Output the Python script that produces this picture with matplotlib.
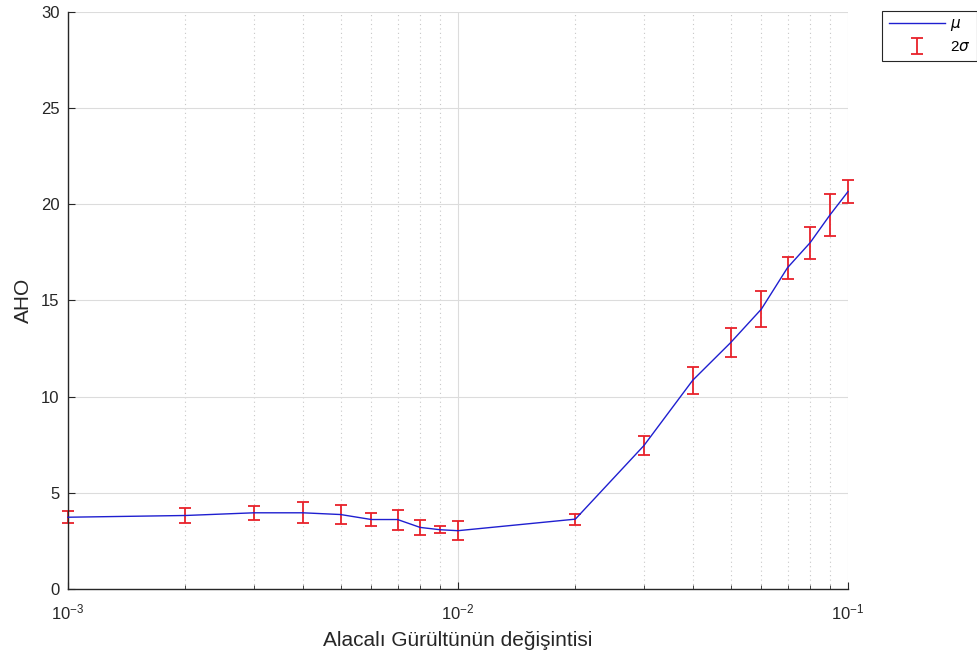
import numpy as np
import matplotlib
matplotlib.use("Agg")
import matplotlib.pyplot as plt
from matplotlib.ticker import LogLocator, LogFormatterMathtext, MultipleLocator, NullFormatter

plt.rcParams['font.family'] = ['Liberation Sans', 'DejaVu Sans']
plt.rcParams['mathtext.fontset'] = 'dejavusans'
plt.rcParams['axes.unicode_minus'] = False

# noise variance levels
noise_var = [0.001, 0.002, 0.003, 0.004, 0.005, 0.006, 0.007, 0.008, 0.009,
             0.01, 0.02, 0.03, 0.04, 0.05, 0.06, 0.07, 0.08, 0.09, 0.1]
# mean AHO
aho_mean = [3.73, 3.82, 3.96, 3.96, 3.87, 3.61, 3.61, 3.20, 3.08,
            3.03, 3.63, 7.46, 10.85, 12.80, 14.55, 16.70, 18.00, 19.45, 20.65]
# two standard deviations (half-length of error bar)
aho_2sigma = [0.30, 0.41, 0.35, 0.55, 0.48, 0.35, 0.52, 0.37, 0.17,
              0.48, 0.29, 0.48, 0.69, 0.75, 0.95, 0.57, 0.83, 1.10, 0.59]

fig = plt.figure(figsize=(9.78, 6.6), dpi=100)
ax = fig.add_axes([0.0695, 0.1076, 0.7975, 0.8745])

line, = ax.plot(noise_var, aho_mean, color='#1f1fd0', lw=1.0, zorder=3,
                label=r'$\mu$', clip_on=False)
eb = ax.errorbar(noise_var, aho_mean, yerr=aho_2sigma, fmt='none', ecolor='#e8212a',
                 elinewidth=1.3, capsize=4, capthick=1.3, zorder=2, label=r'2$\sigma$')
for artist in eb.lines[1] + eb.lines[2]:
    artist.set_clip_on(False)

ax.set_xscale('log')
ax.set_xlim(1e-3, 1e-1)
ax.set_ylim(0, 30)
ax.yaxis.set_major_locator(MultipleLocator(5))
ax.xaxis.set_major_locator(LogLocator(base=10))
ax.xaxis.set_minor_locator(LogLocator(base=10, subs=np.arange(2, 10)))
ax.xaxis.set_major_formatter(LogFormatterMathtext())
ax.xaxis.set_minor_formatter(NullFormatter())

ax.grid(True, which='major', color='#dcdcdc', lw=0.8)
ax.grid(True, which='minor', axis='x', color='#c8c8c8', lw=0.8, ls=(0, (1, 3)))
ax.set_axisbelow(True)

for s in ['top', 'right']:
    ax.spines[s].set_visible(False)
for s in ['left', 'bottom']:
    ax.spines[s].set_color('#262626')
    ax.spines[s].set_linewidth(1.0)

ax.tick_params(axis='both', which='major', direction='in', length=5, color='#262626',
               labelsize=12, labelcolor='#262626')
ax.tick_params(axis='x', which='minor', direction='in', length=3, color='#262626')
ax.tick_params(axis='x', which='major', pad=10)
ax.tick_params(axis='y', which='major', pad=6)

ax.set_xlabel('Alacalı Gürültünün değişintisi', fontsize=15, color='#262626', labelpad=6)
ax.set_ylabel('AHO', fontsize=15, color='#262626', labelpad=6)

leg = fig.legend(handles=[line, eb], labels=[r'$\mu$', r'2$\sigma$'],
                 loc='upper right', bbox_to_anchor=(0.999, 0.984),
                 fancybox=False, framealpha=1, edgecolor='#262626',
                 fontsize=11, handlelength=3.7, borderpad=0.45, labelspacing=0.45,
                 handletextpad=0.3, borderaxespad=0)
leg.get_frame().set_linewidth(0.8)

fig.savefig('out.png', dpi=100, facecolor='white')
